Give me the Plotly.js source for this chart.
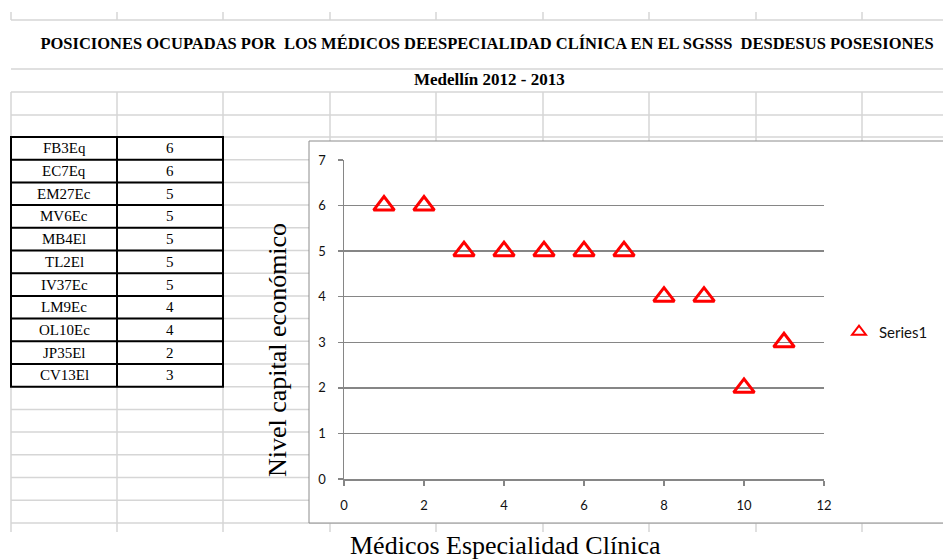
<!DOCTYPE html>
<html>
<head>
<meta charset="utf-8">
<script src="https://cdn.plot.ly/plotly-3.0.1.min.js"></script>
<style>
  html, body { margin: 0; padding: 0; background: #fff; }
  #chart { width: 943px; height: 560px; }
</style>
</head>
<body>
<div id="chart"></div>
<script>
// Physicians (coded) and the economic-capital level each one reached
const medicos = ['FB3Eq', 'EC7Eq', 'EM27Ec', 'MV6Ec', 'MB4El', 'TL2El', 'IV37Ec', 'LM9Ec', 'OL10Ec', 'JP35El', 'CV13El'];
const nivel = [6, 6, 5, 5, 5, 5, 5, 4, 4, 2, 3];
const posicion = [1, 2, 3, 4, 5, 6, 7, 8, 9, 10, 11];

const titulo = 'POSICIONES OCUPADAS POR  LOS MÉDICOS DEESPECIALIDAD CLÍNICA EN EL SGSSS  DESDESUS POSESIONES';
const subtitulo = 'Medellín 2012 - 2013';
const tituloX = 'Médicos Especialidad Clínica';
const tituloY = 'Nivel capital económico';
const serie = 'Series1';
const xTicks = [0, 2, 4, 6, 8, 10, 12];
const yTicks = [0, 1, 2, 3, 4, 5, 6, 7];

// ---- page geometry in pixels, converted to paper fractions ----
const W = 943, H = 560;
const px = x => x / W;
const py = y => 1 - y / H;

const SERIF = '"Liberation Serif", "Times New Roman", serif';
const SANS = 'Lato, "Open Sans", sans-serif';
const CELL = '#d6d6d6';
const AXIS = '#868686';

// worksheet column edges and row lines
const cols = [11, 117, 223, 330, 436, 543, 649, 756, 862];
const rowTop = 137, rowH = 22.7, rowCount = 17, sheetBottom = 532;
const tableRight = 223, tableBottom = rowTop + medicos.length * rowH;

function line(x0, y0, x1, y1, color, width) {
  return {
    type: 'line', xref: 'paper', yref: 'paper', layer: 'below',
    x0: px(x0), y0: py(y0), x1: px(x1), y1: py(y1),
    line: { color: color, width: width }
  };
}

const shapes = [];
// header rows of the sheet
[20, 69, 92, 115].forEach(y => shapes.push(line(11, y, W, y, CELL, 1.5)));
cols.forEach(x => {
  shapes.push(line(x, 12, x, 20, CELL, 1.5));
  shapes.push(line(x, 92, x, rowTop, CELL, 1.5));
  shapes.push(line(x, rowTop, x, sheetBottom, CELL, 1.5));
});
for (let k = 0; k <= rowCount; k++) {
  const y = rowTop + k * rowH;
  shapes.push(line(11, y, W, y, CELL, 1.5));
}
// bordered data table
for (let k = 0; k <= medicos.length; k++) {
  const y = rowTop + k * rowH;
  shapes.push(line(10, y, tableRight + 1, y, '#000', 2));
}
[11, 117, 223].forEach(x => shapes.push(line(x, rowTop, x, tableBottom, '#000', 2)));
// chart frame
shapes.push({
  type: 'rect', xref: 'paper', yref: 'paper', layer: 'below',
  x0: px(309), x1: px(952), y0: py(141), y1: py(523),
  fillcolor: '#ffffff', line: { color: '#8c8c8c', width: 1 }
});

const annotations = [];
annotations.push({
  xref: 'paper', yref: 'paper', x: px(489), y: py(80),
  text: '<b>' + subtitulo + '</b>', showarrow: false,
  xanchor: 'center', yanchor: 'middle',
  font: { family: SERIF, size: 17, color: '#000' }
});
medicos.forEach((m, i) => {
  const yc = rowTop + (i + 0.5) * rowH;
  annotations.push({
    xref: 'paper', yref: 'paper', x: px(64), y: py(yc), text: m, showarrow: false,
    xanchor: 'center', yanchor: 'middle', font: { family: SERIF, size: 15, color: '#000' }
  });
  annotations.push({
    xref: 'paper', yref: 'paper', x: px(170), y: py(yc), text: String(nivel[i]), showarrow: false,
    xanchor: 'center', yanchor: 'middle', font: { family: SERIF, size: 15, color: '#000' }
  });
});
annotations.push({
  xref: 'paper', yref: 'paper', x: px(505), y: py(545), text: tituloX, showarrow: false,
  xanchor: 'center', yanchor: 'middle', font: { family: SERIF, size: 26, color: '#000' }
});
annotations.push({
  xref: 'paper', yref: 'paper', x: px(277), y: py(350), text: tituloY, showarrow: false,
  textangle: -90, xanchor: 'center', yanchor: 'middle',
  font: { family: SERIF, size: 26, color: '#000' }
});

const trace = {
  type: 'scatter', mode: 'markers', name: serie,
  x: posicion, y: nivel, cliponaxis: false,
  marker: { symbol: 'triangle-up-open', size: 18, color: '#ff0000', line: { color: '#ff0000', width: 3 } }
};

const layout = {
  width: W, height: H,
  margin: { l: 0, r: 0, t: 0, b: 0, autoexpand: false },
  paper_bgcolor: '#ffffff', plot_bgcolor: 'rgba(0,0,0,0)',
  title: {
    text: '<b>' + titulo + '</b>', x: px(487), y: py(43),
    xref: 'container', yref: 'container', xanchor: 'center', yanchor: 'middle',
    font: { family: SERIF, size: 16.5, color: '#000' }
  },
  xaxis: {
    domain: [px(344), px(824)], range: [0, 12], tickvals: xTicks,
    showgrid: false, zeroline: false, showline: true, linecolor: AXIS, linewidth: 1.5,
    ticks: 'outside', ticklen: 5, tickwidth: 1.5, tickcolor: AXIS, ticklabelstandoff: 9,
    tickfont: { family: SANS, size: 13, color: '#111' }, fixedrange: true
  },
  yaxis: {
    domain: [py(479), py(160)], range: [0, 7], tickvals: yTicks,
    showgrid: true, gridcolor: AXIS, gridwidth: 1.5, zeroline: false,
    showline: true, linecolor: AXIS, linewidth: 1.5,
    ticks: 'outside', ticklen: 5, tickwidth: 1.5, tickcolor: AXIS, ticklabelstandoff: 9,
    tickfont: { family: SANS, size: 13, color: '#111' }, fixedrange: true
  },
  showlegend: true,
  legend: {
    x: px(839), y: py(332), xanchor: 'left', yanchor: 'middle',
    bgcolor: 'rgba(0,0,0,0)', itemsizing: 'constant',
    font: { family: SANS, size: 15, color: '#111' }
  },
  shapes: shapes,
  annotations: annotations
};

Plotly.newPlot('chart', [trace], layout, { staticPlot: true, displayModeBar: false });
</script>
</body>
</html>
